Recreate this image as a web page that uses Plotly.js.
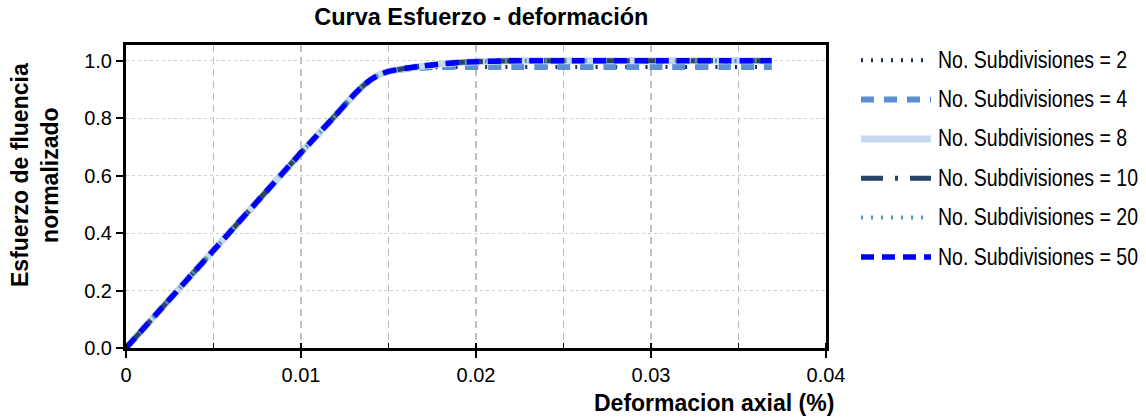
<!DOCTYPE html>
<html>
<head>
<meta charset="utf-8">
<script src="https://cdn.plot.ly/plotly-3.0.1.min.js"></script>
<style>
html,body{margin:0;padding:0;background:#fff;}
#chart{width:1146px;height:419px;}
</style>
</head>
<body>
<div id="chart"></div>
<script>
// Strain (x) shared by all series
const strain = [0, 0.002, 0.004, 0.006, 0.008, 0.010, 0.011, 0.012, 0.013, 0.0135, 0.014, 0.0145, 0.015, 0.016, 0.017, 0.018, 0.019, 0.020, 0.022, 0.025, 0.028, 0.031, 0.034, 0.0369];
// Normalised stress for each subdivision count
const stress2  = [0, 0.136, 0.272, 0.408, 0.544, 0.68, 0.746, 0.812, 0.88, 0.91, 0.935, 0.952, 0.962, 0.971, 0.976, 0.978, 0.978, 0.978, 0.978, 0.978, 0.978, 0.978, 0.978, 0.978];
const stress4  = [0, 0.136, 0.272, 0.408, 0.544, 0.68, 0.746, 0.812, 0.88, 0.91, 0.935, 0.952, 0.962, 0.971, 0.976, 0.978, 0.978, 0.978, 0.978, 0.978, 0.978, 0.978, 0.978, 0.978];
const stress8  = [0, 0.136, 0.272, 0.408, 0.544, 0.68, 0.746, 0.812, 0.88, 0.91, 0.935, 0.952, 0.963, 0.974, 0.982, 0.989, 0.994, 0.997, 1.0, 1.0, 1.0, 1.0, 1.0, 1.0];
const stress10 = [0, 0.136, 0.272, 0.408, 0.544, 0.68, 0.746, 0.812, 0.88, 0.91, 0.935, 0.952, 0.963, 0.974, 0.982, 0.989, 0.994, 0.997, 1.0, 1.0, 1.0, 1.0, 1.0, 1.0];
const stress20 = [0, 0.136, 0.272, 0.408, 0.544, 0.68, 0.746, 0.812, 0.88, 0.91, 0.935, 0.952, 0.963, 0.974, 0.982, 0.989, 0.994, 0.997, 1.0, 1.0, 1.0, 1.0, 1.0, 1.0];
const stress50 = [0, 0.136, 0.272, 0.408, 0.544, 0.68, 0.746, 0.812, 0.88, 0.91, 0.935, 0.952, 0.963, 0.974, 0.982, 0.989, 0.994, 0.997, 1.0, 1.0, 1.0, 1.0, 1.0, 1.0];
const seriesNames = ["No. Subdivisiones = 2", "No. Subdivisiones = 4", "No. Subdivisiones = 8", "No. Subdivisiones = 10", "No. Subdivisiones = 20", "No. Subdivisiones = 50"];
const xTicks = [0, 0.01, 0.02, 0.03, 0.04];
const xTickText = ["0", "0.01", "0.02", "0.03", "0.04"];
const yTicks = [0, 0.2, 0.4, 0.6, 0.8, 1.0];
const yTickText = ["0.0", "0.2", "0.4", "0.6", "0.8", "1.0"];
const chartTitle = 'Curva Esfuerzo - deformación';
const xTitle = 'Deformacion axial (%)';
const yTitle = 'Esfuerzo de fluencia<br>normalizado';

const styles = [
  {color:'#1b2d4b', width:4, dash:'2px,8px'},
  {color:'#5a8fd6', width:6, dash:'13px,10px'},
  {color:'#c6d9f1', width:7, dash:'solid'},
  {color:'#2a4466', width:5, dash:'22px,12px,3px,12px'},
  {color:'#4a9bb2', width:4, dash:'2px,8px'},
  {color:'#0000ff', width:5.5, dash:'13px,8px'}
];
const ys = [stress2, stress4, stress8, stress10, stress20, stress50];
const traces = ys.map((y, i) => ({
  x: strain, y: y, type: 'scatter', mode: 'lines',
  name: seriesNames[i], legendgroup: 'g' + i,
  line: {color: styles[i].color, width: styles[i].width, dash: styles[i].dash, shape: 'spline', smoothing: 0.6}
}));

const F = 'Liberation Sans, Arial, sans-serif';
const layout = {
  width: 1146, height: 419,
  margin: {l: 126, r: 320, t: 45, b: 71},
  paper_bgcolor: '#fff', plot_bgcolor: '#fff',
  font: {family: F, size: 20, color: '#000'},
  title: {text: '<b>' + chartTitle + '</b>', xref: 'container', x: 0.42, xanchor: 'center', yref: 'container', y: 0.959, yanchor: 'middle',
          font: {family: F, size: 23.5, color: '#000'}},
  xaxis: {
    range: [0, 0.04], tickvals: xTicks, ticktext: xTickText,
    showline: true, mirror: true, linecolor: '#000', linewidth: 3,
    ticks: 'outside', ticklen: 7, tickwidth: 2, tickcolor: '#000',
    showgrid: true, gridcolor: '#bfbfbf', griddash: '7px,5px', gridwidth: 1.5,
    minor: {dtick: 0.005, tick0: 0, showgrid: true, gridcolor: '#bfbfbf', griddash: '7px,5px', gridwidth: 1.5, ticks: 'inside', ticklen: 5, tickcolor: '#000', tickwidth: 1.5},
    zeroline: false,
    tickfont: {family: F, size: 20}
  },
  yaxis: {
    range: [0, 1.055], tickvals: yTicks, ticktext: yTickText,
    showline: true, mirror: true, linecolor: '#000', linewidth: 3,
    ticks: 'outside', ticklen: 7, tickwidth: 2, tickcolor: '#000',
    showgrid: true, gridcolor: '#d0d0d0', griddash: 'dot', gridwidth: 1,
    zeroline: false,
    tickfont: {family: F, size: 20}
  },
  annotations: [
    {text: '<b>' + xTitle + '</b>', xref: 'paper', yref: 'paper', x: 1.014, y: -0.18, xanchor: 'right', yanchor: 'middle', showarrow: false, font: {family: F, size: 23, color: '#000'}},
    {text: '<b>' + yTitle + '</b>', xref: 'paper', yref: 'paper', x: -0.13, y: 0.571, xanchor: 'center', yanchor: 'middle', textangle: -90, showarrow: false, font: {family: F, size: 23, color: '#000'}}
  ],
  showlegend: true,
  legend: {
    xref: 'container', yref: 'container',
    x: 856 / 1146, xanchor: 'left', y: 1 - 41 / 419, yanchor: 'top',
    font: {family: F, size: 19.5, color: '#000'},
    bgcolor: 'rgba(0,0,0,0)', tracegroupgap: 11, itemwidth: 30
  }
};
const gd = document.getElementById('chart');
Plotly.newPlot(gd, traces, layout, {displayModeBar: false, staticPlot: true}).then(() => {
  gd.querySelectorAll('.legend, .legend [clip-path]').forEach(el => el.removeAttribute('clip-path'));
  gd.querySelectorAll('clipPath').forEach(cp => { if (/legend/.test(cp.id)) cp.remove(); });
  gd.querySelectorAll('.legend .traces').forEach(tr => {
    tr.querySelectorAll('.legendlines path').forEach(p => p.setAttribute('d', 'M5,0h70'));
    const t = tr.querySelector('.legendtext');
    if (t) {
      t.setAttribute('x', 82);
      const w = t.getComputedTextLength();
      t.style.fontSize = '23px';
      t.setAttribute('textLength', w.toFixed(1));
      t.setAttribute('lengthAdjust', 'spacingAndGlyphs');
    }
  });
});
</script>
</body>
</html>
